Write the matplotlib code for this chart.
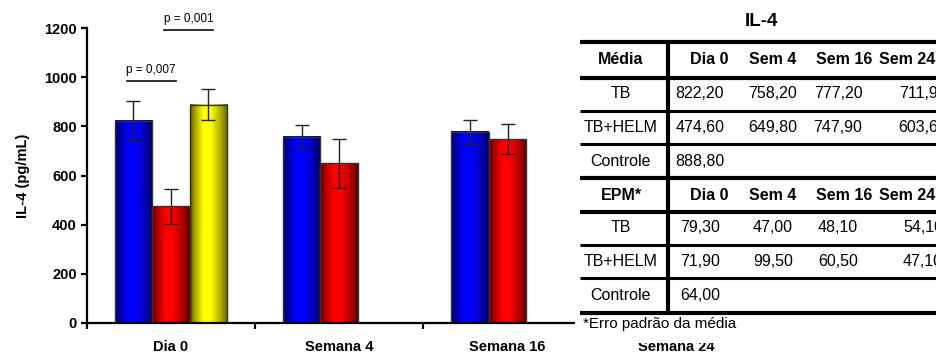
import numpy as np
import matplotlib
matplotlib.use("Agg")
from matplotlib import pyplot as plt

plt.rcParams['font.family'] = ['Liberation Sans', 'DejaVu Sans']

# IL-4 means and standard errors per time point
periods = ["Dia 0", "Semana 4", "Semana 16", "Semana 24"]
periods_short = ["Dia 0", "Sem 4", "Sem 16", "Sem 24"]
tb = [822.20, 758.20, 777.20, 711.90]
tb_helm = [474.60, 649.80, 747.90, 603.60]
controle = [888.80, np.nan, np.nan, np.nan]
tb_err = [79.30, 47.00, 48.10, 54.10]
tb_helm_err = [71.90, 99.50, 60.50, 47.10]
controle_err = [64.00, np.nan, np.nan, np.nan]
group_names = ["TB", "TB+HELM", "Controle"]
y_ticks = [0, 200, 400, 600, 800, 1000, 1200]
p_labels = ["p = 0,007", "p = 0,001"]

series = [
    (tb, tb_err, (0.0, 0.0, 1.0)),
    (tb_helm, tb_helm_err, (1.0, 0.0, 0.0)),
    (controle, controle_err, (1.0, 1.0, 0.0)),
]

W, H = 937, 354
fig = plt.figure(figsize=(W / 100, H / 100), dpi=100)
ax = fig.add_axes([86.7 / W, 1 - 323 / H, 673.3 / W, 295 / H])

x = np.arange(len(periods)) + 0.5
width = 0.223

# horizontal shading profile used inside every bar
t = np.linspace(0, 1, 64)
shade = np.interp(t, [0, 0.1, 0.35, 0.55, 0.8, 1], [0.35, 0.6, 1.0, 1.0, 0.7, 0.4])

for i, (vals, errs, col) in enumerate(series):
    pos = x + (i - 1) * width
    bars = ax.bar(pos, vals, width, facecolor='none', edgecolor='#333333',
                  linewidth=1, zorder=3)
    ax.errorbar(pos, vals, yerr=errs, fmt='none', ecolor='#222222',
                elinewidth=1, capsize=5, capthick=1, zorder=4)
    grad = np.ones((1, len(t), 3)) * np.array(col) * shade[None, :, None]
    for b in bars:
        if np.isnan(b.get_height()):
            continue
        ax.imshow(grad, extent=[b.get_x(), b.get_x() + b.get_width(), 0, b.get_height()],
                  aspect='auto', zorder=2, interpolation='bilinear')

ax.set_xlim(0, len(periods))
ax.set_ylim(0, 1200)

for side in ['top', 'right']:
    ax.spines[side].set_visible(False)
for side in ['left', 'bottom']:
    ax.spines[side].set_linewidth(1.6)

ax.set_yticks(y_ticks)
ax.set_yticklabels([str(v) for v in y_ticks], fontsize=10.5, fontweight='bold')
ax.set_xticks(np.arange(len(periods) + 1))
ax.set_xticklabels([])
ax.set_xticks(x, minor=True)
ax.set_xticklabels(periods, minor=True, fontsize=10.5, fontweight='bold')
ax.tick_params(axis='both', which='major', length=4, width=1.6, direction='out')
ax.tick_params(axis='x', which='minor', length=0, pad=12)
ax.tick_params(axis='y', pad=3)
ax.set_ylabel("IL-4 (pg/mL)", fontsize=10.5, fontweight='bold', labelpad=10)

# significance brackets between Dia 0 groups
for k, (lab, y) in enumerate(zip(p_labels, [984, 1192])):
    x0 = x[0] + (k - 1) * width - 0.04
    x1 = x[0] + k * width + 0.03
    ax.plot([x0, x1], [y, y], color='#222222', lw=1.3, clip_on=False, zorder=5)
    ax.text((x0 + x1) / 2, y + 20, lab, ha='center', va='bottom', fontsize=8.5)

# summary table drawn in pixel units on a white panel
PB = 343
tab = fig.add_axes([575 / W, 1 - PB / H, 1 - 575 / W, PB / H])
tab.set_xlim(575, W)
tab.set_ylim(PB, 0)
tab.axis('off')
tab.add_patch(plt.Rectangle((575, 0), W - 575, PB, facecolor='white',
                            edgecolor='none', zorder=0))

tab.text(761, 22, "IL-4", ha='center', va='center', fontsize=13.5, fontweight='bold')

head_x = [621, 709, 773, 844, 907]
val_x = [621, 700, 773, 838, 923]
line_y = [42, 78, 111, 144, 178, 212, 245, 278, 313]
thick = {42, 78, 178, 212, 313}
for yy in line_y:
    tab.plot([580, W + 5], [yy, yy], color='black',
             lw=3.0 if yy in thick else 2.2, solid_capstyle='butt', clip_on=False)
tab.plot([668, 668], [42, 313], color='black', lw=3.0, solid_capstyle='butt')


def fmt(v):
    return "" if np.isnan(v) else f"{v:.2f}".replace('.', ',')


fs = 11.5
blocks = [("Média", [tb, tb_helm, controle], 60),
          ("EPM*", [tb_err, tb_helm_err, controle_err], 195)]
for title, rows, y0 in blocks:
    tab.text(head_x[0], y0, title, ha='center', va='center', fontsize=fs, fontweight='bold')
    for j, h in enumerate(periods_short):
        tab.text(head_x[j + 1], y0, h, ha='center', va='center', fontsize=fs,
                 fontweight='bold')
    for r, (name, vals) in enumerate(zip(group_names, rows)):
        yy = y0 + 34 * (r + 1) - 1
        tab.text(val_x[0], yy, name, ha='center', va='center', fontsize=fs)
        for j, v in enumerate(vals):
            tab.text(val_x[j + 1], yy, fmt(v), ha='center', va='center', fontsize=fs)

tab.text(583, 324, "*Erro padrão da média", ha='left', va='center', fontsize=11)

fig.savefig("out.png", dpi=100)
